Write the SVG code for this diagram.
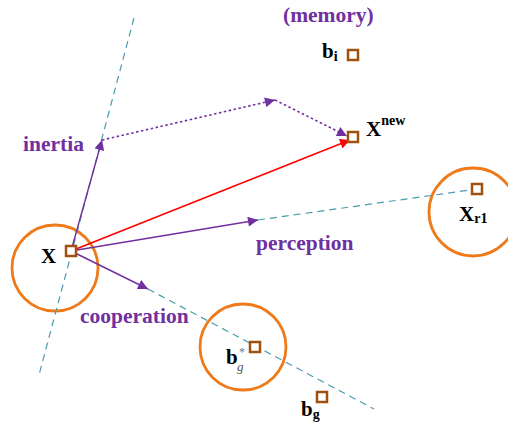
<svg xmlns="http://www.w3.org/2000/svg" width="508" height="423" viewBox="0 0 508 423">
<style>
.lbl{font-family:"Liberation Serif","Times New Roman",serif;font-weight:bold;fill:#7030A0;font-size:21.5px}
.var{font-family:"Liberation Serif","Times New Roman",serif;font-weight:bold;fill:#000;font-size:21px}
.sub{font-family:"Liberation Serif","Times New Roman",serif;font-weight:bold;fill:#000;font-size:14px}
.sq{fill:#fff;stroke:#A0500F;stroke-width:2.5}
.circ{fill:none;stroke:#EE7A1A;stroke-width:2.8}
.dash{fill:none;stroke:#4A9BAE;stroke-width:1.2;stroke-dasharray:7,5}
.pur{fill:none;stroke:#7030A0;stroke-width:1.4}
.dot{fill:none;stroke:#7030A0;stroke-width:1.6;stroke-dasharray:2.5,2.5}
.red{fill:none;stroke:#FF0000;stroke-width:1.6}
</style>
<defs>
<marker id="ap" viewBox="0 0 10 10" refX="10" refY="5" markerWidth="12" markerHeight="10" markerUnits="userSpaceOnUse" orient="auto"><path d="M0,0 L10,5 L0,10 Z" fill="#7030A0"/></marker>
<marker id="ar" viewBox="0 0 10 10" refX="10" refY="5" markerWidth="12" markerHeight="10" markerUnits="userSpaceOnUse" orient="auto"><path d="M0,0 L10,5 L0,10 Z" fill="#FF0000"/></marker>
</defs>
<g id="circles">
<circle id="circX" class="circ" cx="55" cy="268" r="43"/>
<circle id="circBg" class="circ" cx="243" cy="347" r="43"/>
<circle id="circXr1" class="circ" cx="473" cy="212" r="44"/>
</g>
<g id="connectors">
<line class="dash" x1="134" y1="18" x2="39" y2="375"/>
<line class="dash" x1="258" y1="220" x2="477" y2="189"/>
<line class="dash" x1="148" y1="289" x2="374" y2="409"/>
<line class="pur" x1="71" y1="251" x2="102" y2="140" marker-end="url(#ap)"/>
<line class="pur" x1="71" y1="251" x2="258" y2="220" marker-end="url(#ap)"/>
<line class="pur" x1="71" y1="251" x2="148" y2="289" marker-end="url(#ap)"/>
<line class="dot" x1="102" y1="140" x2="275" y2="100" marker-end="url(#ap)"/>
<line class="dot" x1="275" y1="100" x2="347" y2="136" marker-end="url(#ap)"/>
<line class="red" x1="71" y1="251" x2="350" y2="140" marker-end="url(#ar)"/>
</g>
<g id="X"><rect class="sq" x="66" y="246" width="10" height="10"/><text class="var" x="41" y="263">X</text></g>
<g id="Xnew"><rect class="sq" x="348" y="132" width="10" height="10"/><text class="var" x="366" y="136">X<tspan class="sub" dy="-11">new</tspan></text></g>
<g id="bi"><rect class="sq" x="348" y="50" width="10" height="10"/><text class="var" x="322" y="58">b<tspan class="sub" font-size="13" dy="3">i</tspan></text></g>
<g id="Xr1"><rect class="sq" x="472" y="184" width="10" height="10"/><text class="var" x="459" y="221">X<tspan class="sub" dy="2">r1</tspan></text></g>
<g id="bgstar"><rect class="sq" x="250" y="342" width="10" height="10"/><text class="var" x="226" y="364">b</text><text x="239" y="356" font-family="Liberation Serif,serif" font-size="12" fill="#777">*</text><text x="237" y="371" font-family="Liberation Serif,serif" font-style="italic" font-size="13" fill="#555">g</text></g>
<g id="bg"><rect class="sq" x="317" y="392" width="10" height="10"/><text class="var" x="301" y="416">b<tspan class="sub" dy="3">g</tspan></text></g>
<g id="labels">
<text class="lbl" x="283" y="22">(memory)</text>
<text class="lbl" x="23" y="151">inertia</text>
<text class="lbl" x="256" y="250">perception</text>
<text class="lbl" x="80" y="323">cooperation</text>
</g>
</svg>
